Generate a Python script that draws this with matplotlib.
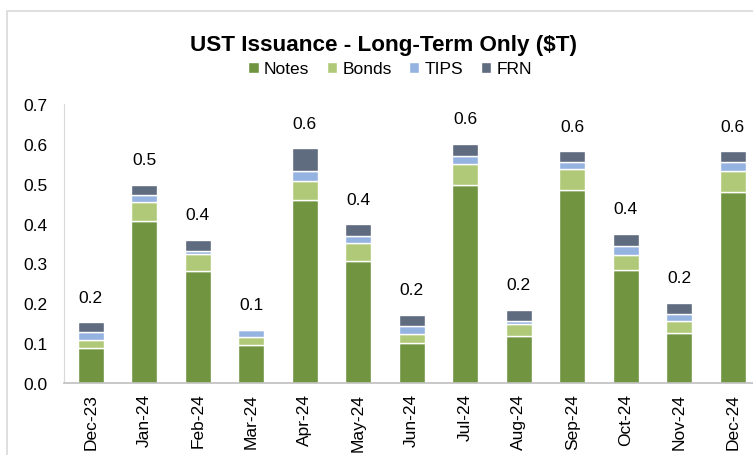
import matplotlib
matplotlib.use("Agg")
import matplotlib.pyplot as plt
import numpy as np
from matplotlib.patches import Rectangle

plt.rcParams['font.family'] = ['Liberation Sans', 'DejaVu Sans']

months = ["Dec-23", "Jan-24", "Feb-24", "Mar-24", "Apr-24", "May-24", "Jun-24",
          "Jul-24", "Aug-24", "Sep-24", "Oct-24", "Nov-24", "Dec-24"]
notes = [0.087, 0.406, 0.280, 0.095, 0.459, 0.307, 0.100, 0.497, 0.119, 0.484, 0.284, 0.125, 0.478]
bonds = [0.020, 0.049, 0.044, 0.020, 0.049, 0.045, 0.023, 0.052, 0.029, 0.053, 0.037, 0.030, 0.053]
tips = [0.020, 0.017, 0.008, 0.019, 0.024, 0.018, 0.019, 0.020, 0.008, 0.018, 0.023, 0.018, 0.023]
frn = [0.025, 0.026, 0.028, 0.000, 0.057, 0.028, 0.029, 0.031, 0.028, 0.026, 0.030, 0.028, 0.027]

series = [("Notes", notes, "#719441"), ("Bonds", bonds, "#B0C978"),
          ("TIPS", tips, "#95B3E0"), ("FRN", frn, "#5F6B7E")]

W, H = 753, 456
fig = plt.figure(figsize=(W / 100, H / 100), dpi=100)
fig.patch.set_facecolor("white")

# chart-area border
fig.patches.append(Rectangle((7 / W, -0.1), 1.2, (H - 12) / H + 0.1, transform=fig.transFigure,
                             fill=False, edgecolor="#D9D9D9", linewidth=1.2))

slot = 53.5
ax = fig.add_axes([64 / W, (H - 384) / H, 13 * slot / W, (384 - 105) / H])
x = np.arange(len(months))
bottom = np.zeros(len(months))
handles = []
for name, vals, col in series:
    v = np.array(vals)
    b = ax.bar(x, v, width=0.49, bottom=bottom, color=col, edgecolor="white",
               linewidth=1.0, label=name)
    handles.append(b)
    bottom += v

for xi, tot in zip(x, bottom):
    ax.text(xi, tot + 0.063, f"{tot:.1f}", ha="center", va="center", fontsize=12.5, color="#000000")

ax.set_xlim(-0.5, 12.5)
ax.set_ylim(0, 0.7)
ax.set_yticks(np.arange(0, 0.71, 0.1))
ax.set_yticklabels([f"{t:.1f}" for t in np.arange(0, 0.71, 0.1)], fontsize=12.5)
ax.set_xticks(x)
ax.set_xticklabels(months, rotation=90, fontsize=12.5)
ax.tick_params(axis="y", length=0, pad=12)
ax.tick_params(axis="x", length=0, pad=7)
for s in ["top", "right"]:
    ax.spines[s].set_visible(False)
ax.spines["left"].set_color("#D9D9D9")
ax.spines["bottom"].set_color("#BFBFBF")
ax.spines["bottom"].set_linewidth(1.2)

fig.text(384 / W, 1 - 46 / H, "UST Issuance - Long-Term Only ($T)", ha="center", va="center",
         fontsize=16.2, fontweight="bold")
fig.legend(handles=handles, labels=[s[0] for s in series], loc="center",
           bbox_to_anchor=(390 / W, 1 - 70 / H), ncol=4, frameon=False, fontsize=12.5,
           handlelength=0.6, handleheight=0.6, handletextpad=0.3, columnspacing=1.0)

fig.savefig("out.png", dpi=100)
